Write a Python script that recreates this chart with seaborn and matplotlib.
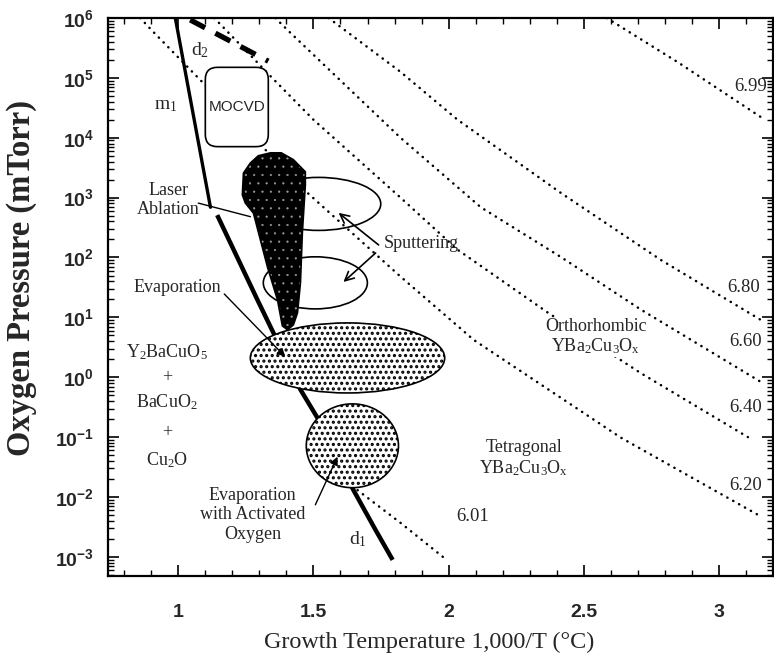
import numpy as np
import pandas as pd
import matplotlib
matplotlib.use('Agg')
import matplotlib.pyplot as plt
import seaborn as sns
from matplotlib import patches, ticker, font_manager

# iso-composition lines of YBa2Cu3Ox: 1000/T and oxygen pressure (mTorr)
x_699 = [2.585, 2.85, 3.156]
p_699 = [1e6, 1.8e5, 2.2e4]
x_680 = [1.556, 1.822, 2.033, 2.415, 2.785, 3.167]
p_680 = [1e6, 1.26e5, 2.0e4, 1.2e3, 91, 8.4]
x_660 = [1.359, 1.404, 1.822, 2.119, 2.415, 2.711, 3.156]
p_660 = [1e6, 6.3e5, 1.0e4, 690, 102, 13.5, 0.83]
x_640 = [1.133, 1.293, 1.33, 1.5, 1.822, 2.033, 2.367, 2.711, 3.107]
p_640 = [1e6, 1.8e5, 1.2e5, 2.0e4, 1.0e3, 135, 12, 1.17, 0.10]
x_620 = [0.859, 0.907, 1.089, 1.315, 1.478, 1.822, 2.093, 2.637, 3.156]
p_620 = [1e6, 5.9e5, 8.5e4, 6.8e3, 1.2e3, 48, 4.2, 0.098, 4.7e-3]
x_601 = [1.663, 1.822, 1.981]
p_601 = [0.013, 3.7e-3, 9.8e-4]
iso_labels = ['6.99', '6.80', '6.60', '6.40', '6.20', '6.01']
iso_label_x = [3.119, 3.093, 3.10, 3.10, 3.10, 2.089]
iso_label_p = [7.1e4, 32, 3.9, 0.31, 0.0158, 4.7e-3]

# melting / decomposition lines
x_m1 = [0.989, 1.119]
p_m1 = [1e6, 690]
x_d1 = [1.144, 1.293, 1.352, 1.452, 1.519, 1.648, 1.730, 1.793]
p_d1 = [510, 19.5, 5.5, 0.62, 0.195, 0.013, 2.8e-3, 8.9e-4]
x_d2 = [1.044, 1.333]
p_d2 = [9.3e5, 1.9e5]

# laser ablation window (outline)
x_laser = [1.237, 1.241, 1.267, 1.296, 1.341, 1.381, 1.426, 1.470, 1.470, 1.459,
           1.452, 1.441, 1.426, 1.404, 1.385, 1.367, 1.330, 1.278, 1.248]
p_laser = [1110, 2570, 3800, 5000, 5600, 5600, 4300, 2700, 1620, 260,
           38, 11.9, 7.5, 6.2, 7.2, 19.5, 69, 550, 810]

# elliptical process windows: centre, width (1000/T), height (decades)
ell_x = [1.519, 1.507, 1.626, 1.644]
ell_p = [785, 37.7, 2.1, 0.0716]
ell_w = [0.46, 0.385, 0.719, 0.341]
ell_h = [0.885, 0.87, 1.17, 1.40]
ell_filled = [False, False, True, True]

# MOCVD window
mocvd_x = [1.10, 1.333]
mocvd_p = [7.1e3, 1.5e5]

y_ticks = [1e-3, 1e-2, 1e-1, 1e0, 1e1, 1e2, 1e3, 1e4, 1e5, 1e6]
y_ticklabels = ['10$^{-3}$', '10$^{-2}$', '10$^{-1}$', '10$^{0}$', '10$^{1}$',
                '10$^{2}$', '10$^{3}$', '10$^{4}$', '10$^{5}$', '10$^{6}$']
x_ticks = [1, 1.5, 2, 2.5, 3]
x_ticklabels = ['1', '1.5', '2', '2.5', '3']

sns.set_style('ticks')
plt.rcParams['font.family'] = ['Liberation Serif', 'DejaVu Serif']
plt.rcParams['mathtext.default'] = 'regular'
plt.rcParams['hatch.linewidth'] = 1.5
names = {f.name for f in font_manager.fontManager.ttflist}
narrow = 'Liberation Sans Narrow' if 'Liberation Sans Narrow' in names else 'Liberation Sans'


def hatch_lw(p, lw):
    if hasattr(p, 'set_hatch_linewidth'):
        p.set_hatch_linewidth(lw)
    return p


fig = plt.figure(figsize=(7.74, 6.61), dpi=100)
ax = fig.add_axes([108/774, 1-576/661, 665/774, 558/661])
ax.set_yscale('log')
ax.set_xlim(0.74, 3.2)
ax.set_ylim(10**-3.32, 1e6)
trans_log = ax.transLimits + ax.transAxes  # x, log10(p) space

dot = (0, (0.1, 2.6))
for xs, ps in [(x_699, p_699), (x_680, p_680), (x_660, p_660),
               (x_640, p_640), (x_620, p_620), (x_601, p_601)]:
    sns.lineplot(x=xs, y=ps, ax=ax, color='black', lw=1.8, linestyle=dot,
                 dash_capstyle='round', estimator=None, sort=False, zorder=1)

sns.lineplot(x=x_m1, y=p_m1, ax=ax, color='black', lw=2.4, estimator=None, sort=False, zorder=2)
sns.lineplot(x=x_d1, y=p_d1, ax=ax, color='black', lw=3.2, estimator=None, sort=False,
             zorder=2, solid_capstyle='butt')
sns.lineplot(x=x_d2, y=p_d2, ax=ax, color='black', lw=3.8, linestyle=(0, (3.2, 2.2)),
             estimator=None, sort=False, zorder=2)

for cx, cp, w, h, filled in zip(ell_x, ell_p, ell_w, ell_h, ell_filled):
    if filled:
        e = patches.Ellipse((cx, np.log10(cp)), w, h, transform=trans_log,
                            fc='white', ec='black', lw=1.2, hatch='...', zorder=5)
        hatch_lw(e, 1.5)
    else:
        e = patches.Ellipse((cx, np.log10(cp)), w, h, transform=trans_log,
                            fill=False, ec='black', lw=1.2, zorder=3)
    ax.add_patch(e)

blob = list(zip(x_laser, p_laser))
specks = patches.Polygon(blob, closed=True, fc='black', ec='#9a9a9a', lw=0,
                         hatch='..', zorder=4)
ax.add_patch(hatch_lw(specks, 0.35))
ax.add_patch(patches.Polygon(blob, closed=True, fill=False, ec='black', lw=1.2, zorder=4))

y0, y1 = np.log10(mocvd_p[0]), np.log10(mocvd_p[1])
ax.add_patch(patches.FancyBboxPatch((mocvd_x[0], y0), mocvd_x[1]-mocvd_x[0], y1-y0,
                                    boxstyle='round,pad=0,rounding_size=0.045',
                                    mutation_aspect=4.5, transform=trans_log,
                                    fc='white', ec='black', lw=1.2, zorder=3))
ax.text(np.mean(mocvd_x), 10**((y0+y1)/2), 'MOCVD', family=narrow, fontsize=11,
        ha='center', va='center', zorder=6)

fs = 13
for lab, lx, lp in zip(iso_labels, iso_label_x, iso_label_p):
    ax.text(lx, lp, lab, fontsize=13.5, ha='center', va='center', zorder=6)

ax.text(0.963, 910, 'Laser\nAblation', fontsize=fs, ha='center', va='center',
        linespacing=1.15, zorder=6)
ax.plot([1.074, 1.267], [810, 480], color='black', lw=1.0, zorder=6)

ax.text(1.759, 174, 'Sputtering', fontsize=fs, ha='left', va='center', zorder=6)
ax.annotate('', xy=(1.593, 556), xytext=(1.741, 162),
            arrowprops=dict(arrowstyle='->', lw=1.2, color='black',
                            mutation_scale=16, shrinkA=0, shrinkB=0), zorder=6)
ax.annotate('', xy=(1.611, 39), xytext=(1.730, 119),
            arrowprops=dict(arrowstyle='->', lw=1.2, color='black',
                            mutation_scale=16, shrinkA=0, shrinkB=0), zorder=6)

ax.text(0.996, 31, 'Evaporation', fontsize=fs, ha='center', va='center', zorder=6)
ax.annotate('', xy=(1.396, 2.19), xytext=(1.170, 24.6),
            arrowprops=dict(arrowstyle='-|>', lw=1.0, color='black',
                            mutation_scale=12, shrinkA=0, shrinkB=0), zorder=6)

ax.text(1.274, 5.0e-3, 'Evaporation\nwith Activated\nOxygen', fontsize=fs,
        ha='center', va='center', linespacing=1.2, zorder=6)
ax.annotate('', xy=(1.589, 0.047), xytext=(1.507, 7.4e-3),
            arrowprops=dict(arrowstyle='-|>', lw=1.0, color='black',
                            mutation_scale=12, shrinkA=0, shrinkB=0), zorder=6)

ax.text(0.959, 2.65, 'Y$_2$BaCuO$_5$', fontsize=fs, ha='center', va='center')
ax.text(0.959, 1.0, '+', fontsize=fs, ha='center', va='center')
ax.text(0.959, 0.39, 'BaCuO$_2$', fontsize=fs, ha='center', va='center')
ax.text(0.959, 0.118, '+', fontsize=fs, ha='center', va='center')
ax.text(0.959, 0.042, 'Cu$_2$O', fontsize=fs, ha='center', va='center')

ax.text(0.952, 3.5e4, 'm$_1$', fontsize=14, ha='center', va='center')
ax.text(1.081, 2.9e5, 'd$_2$', fontsize=14, ha='center', va='center')
ax.text(1.663, 1.95e-3, 'd$_1$', fontsize=14, ha='center', va='center')

ax.text(2.544, 4.7, 'Orthorhombic\nYBa$_2$Cu$_3$O$_x$', fontsize=fs, ha='center',
        va='center', linespacing=1.1, zorder=6,
        bbox=dict(fc='white', ec='none', pad=0.5))
ax.text(2.278, 0.044, 'Tetragonal\nYBa$_2$Cu$_3$O$_x$', fontsize=fs, ha='center',
        va='center', linespacing=1.1, zorder=6)

# axes, ticks
ax.yaxis.set_major_locator(ticker.FixedLocator(y_ticks))
ax.yaxis.set_major_formatter(ticker.FixedFormatter(y_ticklabels))
ax.yaxis.set_minor_locator(ticker.LogLocator(base=10, subs=np.arange(2, 10), numticks=30))
ax.yaxis.set_minor_formatter(ticker.NullFormatter())
ax.xaxis.set_major_locator(ticker.FixedLocator(x_ticks))
ax.xaxis.set_major_formatter(ticker.FixedFormatter(x_ticklabels))
ax.xaxis.set_minor_locator(ticker.MultipleLocator(0.1))
ax.set_xlim(0.74, 3.2)
ax.set_ylim(10**-3.32, 1e6)
ax.tick_params(which='both', direction='in', top=True, right=True, color='black')
ax.tick_params(which='major', length=8, width=1.2)
ax.tick_params(which='minor', length=4, width=1.0)
ax.tick_params(axis='x', which='major', pad=20)
ax.tick_params(axis='y', which='major', pad=10)
for lab in ax.get_xticklabels() + ax.get_yticklabels():
    lab.set_family('Liberation Sans')
    lab.set_fontweight('bold')
    lab.set_fontsize(14)
for s in ax.spines.values():
    s.set_linewidth(1.6)
    s.set_color('black')

ax.set_ylabel('Oxygen Pressure (mTorr)', fontsize=23.5, fontweight='bold')
ax.yaxis.set_label_coords(-0.107, 0.534)
ax.set_xlabel('Growth Temperature 1,000/T (°C)', fontsize=17.4)
ax.xaxis.set_label_coords(0.483, -0.100)

fig.savefig('out.png', dpi=100)
